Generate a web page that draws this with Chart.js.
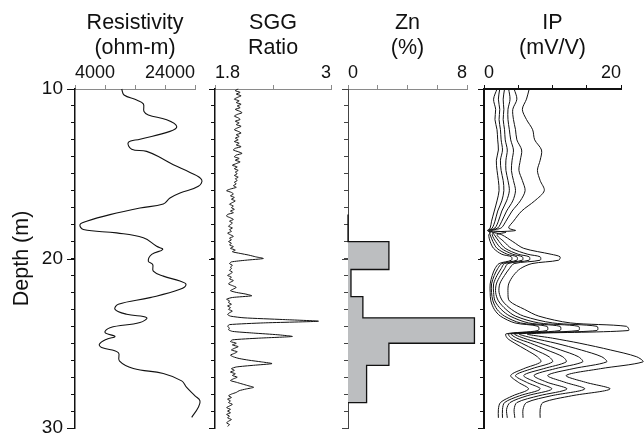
<!DOCTYPE html>
<html>
<head>
<meta charset="utf-8">
<title>Borehole logs</title>
<script src="https://cdn.jsdelivr.net/npm/chart.js@4.4.1/dist/chart.umd.min.js"></script>
<style>
    html, body { margin: 0; padding: 0; background: #ffffff; }
    #logs { position: relative; width: 644px; height: 435px; }
    #logs canvas { position: absolute; left: 0; top: 0; }
</style>
</head>
<body>
<div id="logs">
    <canvas id="resChart" width="644" height="435"></canvas>
    <canvas id="sggChart" width="644" height="435"></canvas>
    <canvas id="znChart" width="644" height="435"></canvas>
    <canvas id="ipChart" width="644" height="435"></canvas>
</div>
<script>
// ============================================
// Log data
// ============================================

// Depth axis
const depthMin = 10;
const depthMax = 30;
const depthLabels = [10, 20, 30];

// Top axis ticks for each log
const resTicks = [4000, 9000, 14000, 19000, 24000];
const sggTicks = [1.8, 2.4, 3];
const znTicks = [0, 2, 4, 6, 8];
const ipTicks = [0, 5, 10, 15, 20];

// Resistivity (ohm-m)
const resDepth = [10.0, 10.35, 10.65, 10.88, 11.33, 11.53, 11.82, 12.2, 12.5, 12.96,
    13.15, 13.55, 13.68, 14.14, 14.47, 14.92, 15.35, 15.74, 16.14, 16.43,
    16.78, 17.02, 17.41, 17.8, 18.0, 18.29, 18.49, 18.78, 19.28, 19.47,
    19.76, 20.16, 20.35, 20.75, 21.04, 21.33, 21.53, 21.82, 22.31, 22.7,
    23.0, 23.29, 23.49, 23.78, 24.08, 24.37, 24.6, 24.76, 25.06, 25.25,
    25.55, 26.04, 26.49, 26.78, 27.22, 27.61, 28.1, 28.4, 28.78, 29.37];
const resValue = [11780, 12170, 14280, 15390, 15500, 16220, 19280, 20950, 19830, 14830,
    12890, 13440, 15940, 18720, 20390, 23170, 25110, 24560, 21500, 19830,
    18720, 14830, 9830, 5940, 4830, 5390, 10940, 15390, 17610, 18610,
    16780, 16220, 16950, 17050, 18720, 21500, 22500, 21500, 16500, 11220,
    10670, 12610, 15940, 14830, 9830, 9000, 10670, 9280, 8060, 8440,
    11220, 11390, 13720, 18720, 21780, 22610, 24000, 24830, 24560, 23450];

// SGG ratio, sampled every 0.1 m from 10.0 m
const sggStart = 10.0;
const sggStep = 0.1;
const sggValue = [
    2.04, 2.01, 2.06, 2.02, 2.07, 2.03, 2.00, 2.05, 2.02, 2.07,
    2.03, 2.06, 2.01, 2.05, 2.08, 2.03, 2.00, 2.04, 2.06, 2.01,
    2.05, 2.02, 2.07, 2.03, 2.00, 2.04, 2.07, 2.02, 2.05, 2.01,
    2.04, 2.00, 2.05, 2.02, 2.07, 2.01, 1.99, 2.04, 2.08, 2.02,
    2.00, 2.05, 2.01, 2.06, 2.02, 1.98, 2.03, 2.00, 2.04, 2.01,
    2.03, 2.00, 2.04, 2.01, 2.03, 2.00, 2.02, 1.99, 2.02, 1.96,
    1.92, 1.97, 1.99, 1.96, 2.00, 1.97, 2.01, 1.98, 1.95, 1.99,
    1.97, 2.00, 1.96, 1.99, 1.93, 1.92, 1.96, 1.99, 1.95, 1.98,
    1.96, 1.94, 1.98, 1.95, 1.97, 1.93, 1.96, 1.99, 1.95, 1.97,
    1.94, 1.97, 1.95, 1.99, 1.96, 2.01, 1.98, 2.06, 2.15, 2.22,
    2.30, 2.12, 1.97, 1.95, 1.98, 1.96, 1.97, 1.95, 1.98, 1.96,
    1.93, 1.97, 1.95, 1.99, 1.96, 1.94, 1.98, 2.02, 1.99, 1.96,
    2.02, 2.12, 2.18, 1.98, 1.92, 1.95, 1.94, 1.97, 1.93, 1.96,
    1.94, 1.98, 1.95, 1.93, 1.96, 2.10, 2.50, 2.87, 2.30, 1.95,
    1.93, 1.95, 1.94, 1.98, 2.20, 2.45, 2.60, 2.25, 1.98, 1.96,
    2.02, 1.98, 2.04, 2.00, 1.97, 2.03, 2.00, 1.96, 1.99, 2.05,
    2.15, 2.28, 2.39, 2.20, 2.02, 1.97, 2.00, 1.96, 2.01, 1.98,
    2.03, 1.99, 1.96, 2.02, 2.08, 2.14, 2.20, 2.12, 2.05, 2.02,
    1.97, 1.94, 1.97, 1.93, 1.96, 1.94, 1.98, 1.95, 1.92, 1.96,
    1.93, 1.96, 1.92, 1.95, 1.93, 1.97, 1.94, 1.92, 1.95, 1.93
];

// Zn assay (%), each value holds from its depth down to the next one
const znDepth = [17.4, 19.0, 20.65, 22.25, 23.5, 25.0, 26.3, 28.5];
const znValue = [0, 2.75, 0.2, 1.0, 8.5, 2.75, 1.25, 0];

// IP chargeability (mV/V), one curve per time window
const ipDepth = [10.0, 10.6, 11.2, 11.8, 12.4, 13.0, 13.6, 14.2, 14.8, 15.4,
    16.0, 16.6, 17.2, 17.8, 18.2, 18.35, 18.45, 18.6, 19.0, 19.4,
    19.75, 19.9, 20.1, 20.3, 20.6, 21.0, 21.5, 22.0, 22.5, 23.0,
    23.4, 23.8, 24.0, 24.25, 24.45, 24.7, 25.0, 25.4, 25.8, 26.1,
    26.5, 26.9, 27.3, 27.7, 28.1, 28.5, 28.9, 29.4];
const ipWindow1 = [1.9, 1.4, 1.7, 1.6, 1.9, 2.0, 2.1, 1.8, 1.9, 2.1,
    2.2, 1.9, 1.5, 1.1, 0.9, 0.5, 1.0, 0.7, 0.9, 1.4,
    2.6, 4.0, 4.0, 2.2, 1.6, 1.2, 0.9, 0.9, 1.0, 1.5,
    2.4, 4.5, 7.9, 7.9, 3.2, 3.4, 4.5, 6.2, 7.8, 8.3,
    5.8, 3.9, 5.0, 6.5, 4.2, 2.4, 2.1, 2.1];
const ipWindow2 = [2.3, 2.1, 2.3, 2.2, 2.4, 2.5, 2.7, 2.4, 2.5, 2.8,
    2.9, 2.6, 2.0, 1.6, 1.2, 0.6, 0.8, 0.9, 1.3, 1.9,
    3.4, 4.8, 4.8, 2.6, 2.0, 1.5, 1.1, 1.1, 1.3, 1.9,
    3.0, 5.3, 9.2, 9.2, 3.6, 4.0, 5.5, 7.5, 9.5, 10.0,
    7.0, 4.6, 6.2, 8.2, 5.2, 3.0, 2.7, 2.7];
const ipWindow3 = [3.0, 2.8, 2.9, 2.8, 3.0, 3.1, 3.4, 3.2, 3.2, 3.5,
    3.7, 3.3, 2.6, 2.1, 1.6, 0.7, 1.4, 1.2, 1.7, 2.5,
    4.2, 5.6, 5.6, 3.0, 2.5, 1.9, 1.4, 1.4, 1.6, 2.5,
    3.8, 6.5, 11.1, 11.1, 4.0, 4.8, 6.8, 9.2, 11.5, 12.0,
    8.7, 5.8, 7.6, 9.9, 6.3, 3.8, 3.3, 3.4];
const ipWindow4 = [3.6, 3.8, 3.5, 3.5, 3.7, 3.9, 4.3, 4.1, 4.0, 4.3,
    4.6, 4.2, 3.3, 2.6, 2.0, 0.8, 1.2, 1.5, 2.2, 3.1,
    5.0, 6.6, 6.6, 3.5, 3.0, 2.4, 1.8, 1.7, 2.1, 3.2,
    4.6, 8.0, 13.8, 13.8, 4.5, 5.8, 8.2, 11.2, 13.8, 14.4,
    10.4, 7.3, 9.2, 12.1, 8.0, 4.8, 4.4, 4.5];
const ipWindow5 = [4.4, 4.8, 4.2, 4.3, 4.6, 4.8, 5.5, 5.3, 5.1, 5.6,
    6.0, 5.3, 4.1, 3.2, 2.5, 1.0, 3.2, 1.9, 2.9, 4.0,
    6.4, 8.2, 8.2, 4.4, 3.7, 3.0, 2.3, 2.2, 2.7, 4.0,
    5.8, 10.0, 16.5, 16.5, 5.2, 7.2, 10.5, 14.2, 17.2, 17.9,
    13.0, 9.3, 11.8, 14.7, 9.8, 6.2, 5.7, 5.7];
const ipWindow6 = [6.6, 6.2, 5.6, 6.2, 7.1, 7.4, 8.4, 8.2, 7.8, 8.2,
    8.8, 7.4, 5.5, 4.3, 3.6, 4.6, 1.4, 2.6, 4.2, 5.8,
    9.8, 11.1, 10.9, 7.0, 5.3, 4.3, 3.6, 3.5, 3.7, 5.9,
    8.0, 12.6, 20.8, 21.1, 6.4, 10.0, 14.0, 18.5, 22.3, 23.2,
    17.0, 12.0, 14.8, 18.4, 12.8, 8.6, 8.2, 8.2];

// ============================================
// Layout and styling
// ============================================

const FONT = 'Arial, "Liberation Sans", Helvetica, sans-serif';
const CANVAS_W = 644;
const CANVAS_H = 435;
const PLOT_TOP = 89;
const PLOT_BOTTOM = 428;

// Draws the longer ticks at the labelled depths
const majorTicks = {
    id: 'majorTicks',
    afterDraw(chart, args, opts) {
        if (!opts.length) return;
        const { ctx, chartArea, scales } = chart;
        ctx.save();
        ctx.strokeStyle = opts.color;
        ctx.lineWidth = 1;
        depthLabels.forEach(d => {
            const y = Math.round(scales.y.getPixelForValue(d)) + 0.5;
            ctx.beginPath();
            ctx.moveTo(chartArea.left - opts.length, y);
            ctx.lineTo(chartArea.left, y);
            ctx.stroke();
        });
        ctx.restore();
    }
};

// The filler clips to the chart area; widen it while datasets draw so a
// bar running past the last tick is filled the same as its outline
const widenFill = {
    id: 'widenFill',
    beforeDatasetsDraw(chart, args, opts) {
        chart.chartArea.right += opts.extra || 0;
    },
    afterDatasetsDraw(chart, args, opts) {
        chart.chartArea.right -= opts.extra || 0;
    }
};

function toPoints(depths, values) {
    return depths.map((d, i) => ({ x: values[i], y: d }));
}

// Build one log panel on its own canvas
function makePanel(canvasId, cfg) {
    const ctx = document.getElementById(canvasId).getContext('2d');
    const ticks = cfg.ticks;

    return new Chart(ctx, {
        type: 'line',
        data: { datasets: cfg.datasets },
        plugins: [majorTicks, widenFill],
        options: {
            responsive: false,
            animation: false,
            devicePixelRatio: 1,
            indexAxis: 'y',
            layout: {
                padding: {
                    left: cfg.left - cfg.axisWidth,
                    right: CANVAS_W - cfg.right,
                    top: 0,
                    bottom: CANVAS_H - PLOT_BOTTOM
                }
            },
            elements: {
                point: { radius: 0 },
                line: { capBezierPoints: false, borderColor: '#111', borderWidth: 1 }
            },
            plugins: {
                legend: { display: false },
                tooltip: { enabled: false },
                majorTicks: { length: cfg.majorTick, color: cfg.leftColor },
                widenFill: { extra: cfg.fillExtra || 0 }
            },
            scales: {
                x: {
                    type: 'linear',
                    position: 'top',
                    min: ticks[0],
                    max: ticks[ticks.length - 1],
                    afterBuildTicks: scale => {
                        scale.ticks = ticks.map(v => ({ value: v }));
                    },
                    afterFit: scale => {
                        scale.height = PLOT_TOP;
                        scale.paddingLeft = 0;
                        scale.paddingRight = 0;
                    },
                    border: { color: cfg.topColor, width: cfg.topWidth },
                    grid: {
                        drawOnChartArea: false,
                        drawTicks: true,
                        tickLength: 4,
                        color: cfg.topColor,
                        lineWidth: 1
                    },
                    ticks: {
                        autoSkip: false,
                        maxRotation: 0,
                        align: 'inner',
                        padding: 1,
                        color: '#111',
                        font: { family: FONT, size: 18, lineHeight: 1.2 },
                        callback: (v, i) => (i === 0 || i === ticks.length - 1) ? String(v) : ''
                    },
                    title: {
                        display: true,
                        text: cfg.title,
                        color: '#111',
                        font: { family: FONT, size: 21.5, lineHeight: 1.16 },
                        padding: { top: 11, bottom: 0 }
                    }
                },
                y: {
                    type: 'linear',
                    reverse: true,
                    min: depthMin,
                    max: depthMax,
                    afterFit: scale => {
                        scale.width = cfg.axisWidth;
                        scale.paddingTop = 0;
                        scale.paddingBottom = 0;
                    },
                    border: { color: cfg.leftColor, width: cfg.leftWidth },
                    grid: {
                        drawOnChartArea: false,
                        drawTicks: true,
                        tickLength: 4,
                        color: cfg.leftColor,
                        lineWidth: 1
                    },
                    ticks: {
                        stepSize: 1,
                        autoSkip: false,
                        display: cfg.showDepth,
                        padding: 8,
                        color: '#111',
                        font: { family: FONT, size: 19, lineHeight: 1.2 },
                        callback: v => depthLabels.includes(v) ? String(v) : ''
                    },
                    title: {
                        display: cfg.showDepth,
                        text: 'Depth (m)',
                        color: '#111',
                        font: { family: FONT, size: 21.5, lineHeight: 1.2 },
                        padding: { top: 9, bottom: 0 }
                    }
                }
            }
        }
    });
}

// ============================================
// Panels
// ============================================

// Resistivity
makePanel('resChart', {
    left: 75, right: 195, axisWidth: 75,
    ticks: resTicks,
    title: ['Resistivity', '(ohm-m)'],
    topColor: '#8a8a8a', topWidth: 1,
    leftColor: '#111', leftWidth: 1.5,
    majorTick: 8, showDepth: true,
    datasets: [{
        data: toPoints(resDepth, resValue),
        borderWidth: 1.1,
        tension: 0.4,
        clip: false
    }]
});

// SGG ratio
makePanel('sggChart', {
    left: 215, right: 331, axisWidth: 10,
    ticks: sggTicks,
    title: ['SGG', 'Ratio'],
    topColor: '#8a8a8a', topWidth: 1,
    leftColor: '#111', leftWidth: 1.5,
    majorTick: 6, showDepth: false,
    datasets: [{
        data: sggValue.map((v, i) => ({ x: v, y: sggStart + i * sggStep })),
        borderWidth: 1,
        tension: 0.2,
        clip: false
    }]
});

// Zn assays
makePanel('znChart', {
    left: 348, right: 467, axisWidth: 10,
    ticks: znTicks,
    title: ['Zn', '(%)'],
    topColor: '#8a8a8a', topWidth: 1,
    leftColor: '#444', leftWidth: 1,
    majorTick: 6, showDepth: false,
    fillExtra: 20,
    datasets: [{
        data: toPoints(znDepth, znValue),
        stepped: 'after',
        borderWidth: 1.3,
        borderColor: '#111',
        backgroundColor: '#bcbec0',
        fill: 'origin',
        clip: false
    }]
});

// IP, one line per window
const ipWindows = [ipWindow1, ipWindow2, ipWindow3, ipWindow4, ipWindow5, ipWindow6];
makePanel('ipChart', {
    left: 484, right: 621, axisWidth: 10,
    ticks: ipTicks,
    title: ['IP', '(mV/V)'],
    topColor: '#111', topWidth: 2,
    leftColor: '#111', leftWidth: 2,
    majorTick: 6, showDepth: false,
    datasets: ipWindows.map(w => ({
        data: toPoints(ipDepth, w),
        borderWidth: 1,
        tension: 0.3,
        clip: false
    }))
});
</script>
</body>
</html>
